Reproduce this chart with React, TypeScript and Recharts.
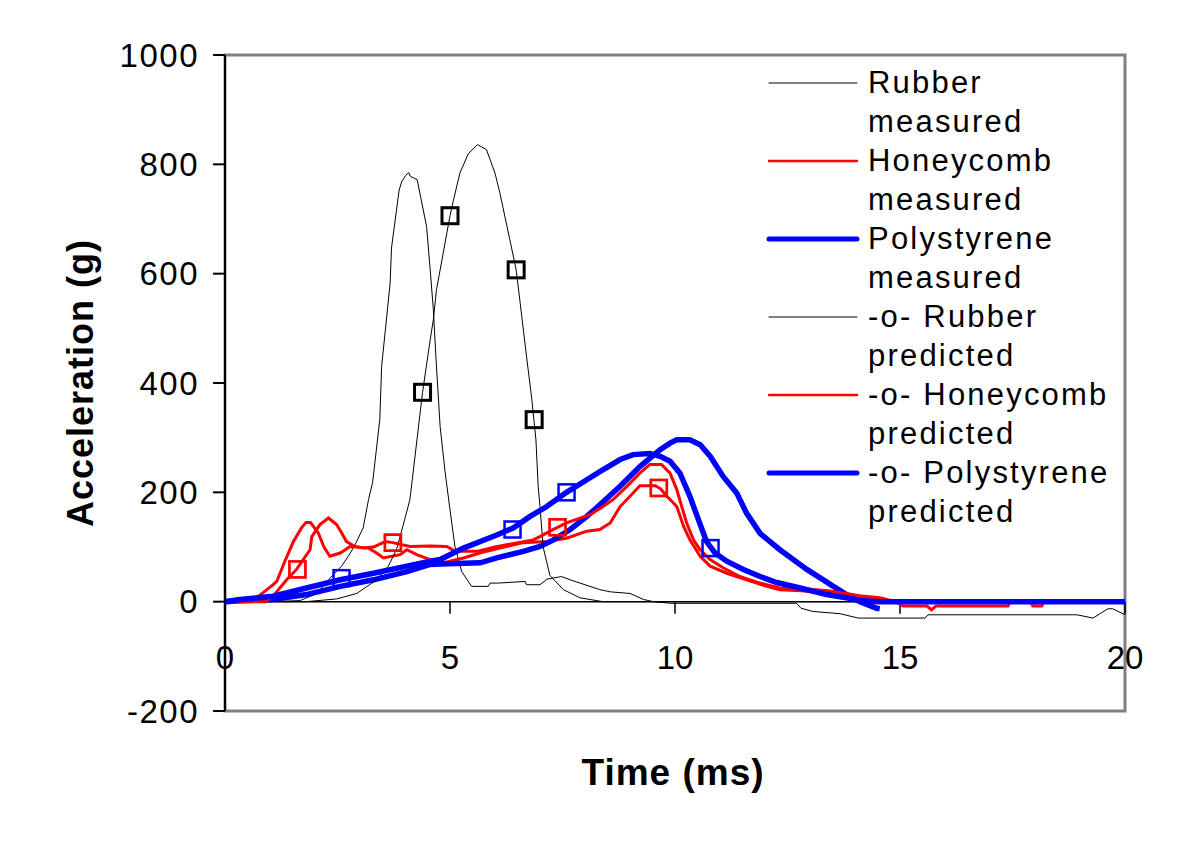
import {
  ComposedChart, Line, Scatter, XAxis, YAxis, ReferenceLine, ReferenceArea, Legend, Label,
} from 'recharts'

const font = '"Liberation Sans", Arial, sans-serif'

// [time ms, acceleration g]
const rubberMeasured: [number, number][] = [
  [0, 0], [1.0, 0], [1.67, 2], [2.04, 15], [2.3, 40], [2.59, 65], [2.74, 83], [2.89, 104],
  [3.07, 135], [3.19, 187], [3.28, 218], [3.44, 333], [3.48, 430], [3.67, 583], [3.7, 647],
  [3.87, 753], [3.93, 769], [4.02, 780], [4.08, 785], [4.12, 778], [4.27, 772], [4.48, 686],
  [4.56, 607], [4.63, 534], [4.69, 443], [4.78, 321], [4.89, 238], [5.0, 168], [5.11, 101],
  [5.26, 55], [5.48, 28], [5.85, 28], [5.89, 34], [6.07, 34], [6.67, 37], [6.7, 31], [7.0, 31],
  [7.15, 41], [7.48, 46], [7.67, 40], [7.89, 34], [8.11, 28], [8.33, 22], [8.56, 18], [9.0, 15],
  [9.3, 4], [9.52, 0], [9.9, -3], [12.7, -3], [12.8, -12], [13.07, -18], [13.67, -22],
  [14.07, -30], [15.56, -30], [15.62, -24], [18.93, -24], [19.29, -30], [19.62, -13],
  [19.73, -13], [20, -24],
]
const honeycombMeasured: [number, number][] = [
  [0, 0], [0.6, 0], [0.7, 7], [1.07, 31], [1.15, 37], [1.33, 74], [1.52, 110], [1.7, 135],
  [1.8, 145], [1.9, 145], [2.07, 126], [2.2, 100], [2.33, 83], [2.56, 89], [2.78, 101],
  [3.19, 98], [3.37, 89], [3.52, 80], [3.89, 86], [4.04, 95], [4.26, 86], [4.56, 77],
  [4.9, 72], [5.3, 80], [5.7, 90], [6.2, 100], [6.63, 108], [7.15, 110], [7.59, 116],
  [8.04, 129], [8.33, 132], [8.56, 144], [8.78, 174], [9.0, 193], [9.22, 212], [9.56, 212],
  [9.67, 207], [9.82, 193], [10.04, 174], [10.19, 138], [10.33, 113], [10.56, 83], [10.78, 65],
  [11.15, 52], [11.59, 40], [12.04, 28], [12.33, 22], [12.8, 20], [13.4, 16], [13.8, 12],
  [14.1, 9], [14.55, 5], [14.9, 0], [20, 0],
]
const polystyreneMeasured: [number, number][] = [
  [0, 0], [0.4, 2], [1.07, 4], [1.81, 13], [2.56, 28], [3.3, 40], [4.04, 55], [4.56, 68],
  [4.78, 69], [5.67, 71], [6.04, 80], [6.63, 92], [7.0, 101], [7.3, 113], [7.67, 132],
  [8.04, 156], [8.33, 177], [8.78, 211], [9.22, 247], [9.67, 278], [9.89, 290], [10.04, 296],
  [10.33, 296], [10.56, 287], [10.78, 266], [11.07, 229], [11.37, 199], [11.59, 162],
  [11.89, 125], [12.33, 95], [12.93, 59], [13.52, 28], [13.81, 13], [14.11, 0], [14.48, -12],
  [14.55, -13],
]
const rubberPredicted: [number, number][] = [
  [0, 0], [1.8, 0], [2.48, 5], [2.93, 15], [3.37, 40], [3.63, 65], [3.81, 95], [3.96, 140],
  [4.11, 187], [4.39, 383], [4.56, 479], [4.63, 516], [4.7, 571], [4.85, 638], [5.0, 706],
  [5.07, 732], [5.22, 784], [5.41, 820], [5.61, 836], [5.81, 827], [6.0, 784], [6.11, 747],
  [6.33, 662], [6.47, 607], [6.56, 546], [6.7, 449], [6.82, 369], [6.91, 296], [6.96, 210],
  [7.0, 174], [7.07, 100], [7.22, 48], [7.52, 22], [7.89, 7], [8.4, 0], [20, 0],
]
const honeycombPredicted: [number, number][] = [
  [0, 0], [0.9, 0], [1.07, 10], [1.37, 40], [1.59, 59], [1.89, 95], [1.93, 119], [2.11, 141],
  [2.3, 153], [2.48, 141], [2.59, 126], [2.7, 110], [2.89, 101], [3.07, 98], [3.3, 100],
  [3.56, 110], [3.73, 108], [4.11, 101], [4.56, 102], [4.93, 101], [5.11, 92], [5.6, 92],
  [6.0, 100], [6.26, 104], [6.85, 113], [7.0, 119], [7.22, 129], [7.59, 144], [8.11, 159],
  [8.33, 170], [8.63, 187], [8.93, 211], [9.22, 235], [9.44, 251], [9.7, 251], [9.89, 235],
  [10.04, 205], [10.15, 174], [10.26, 144], [10.41, 113], [10.56, 95], [10.78, 77],
  [11.07, 62], [11.44, 46], [11.89, 34], [12.33, 25], [12.8, 24], [13.4, 20], [13.8, 15],
  [14.1, 11], [14.55, 7], [14.9, 0], [15.07, -8], [15.6, -8], [15.7, -15], [15.8, -8],
  [17.4, -8], [17.45, 0], [17.9, 0], [17.95, -8], [18.15, -8], [18.2, 0], [20, 0],
]
const polystyrenePredicted: [number, number][] = [
  [0, 0], [0.33, 4], [1.07, 10], [1.81, 25], [2.56, 40], [3.3, 52], [4.04, 65], [4.56, 74],
  [4.78, 77], [5.3, 98], [6.04, 122], [6.41, 135], [6.78, 156], [7.15, 174], [7.59, 200],
  [8.04, 223], [8.33, 238], [8.78, 260], [9.07, 269], [9.44, 271], [9.67, 266], [9.89, 257],
  [10.11, 235], [10.33, 193], [10.52, 150], [10.7, 110], [10.89, 89], [11.15, 74], [11.52, 59],
  [11.89, 46], [12.26, 35], [12.78, 25], [13.37, 13], [13.81, 7], [14.11, 2], [14.5, 0], [20, 0],
]

// square markers on the predicted curves
const rubberMarks: [number, number][] = [[4.39, 383], [5.0, 706], [6.47, 607], [6.87, 333]]
const honeycombMarks: [number, number][] = [[1.61, 59], [3.73, 108], [7.39, 136], [9.64, 208]]
const polystyreneMarks: [number, number][] = [[2.59, 43], [6.39, 132], [7.59, 200], [10.79, 98]]

const xTicks = [0, 5, 10, 15, 20]
const yTicks = [-200, 0, 200, 400, 600, 800, 1000]

const pts = (a: [number, number][]) => a.map(([t, g]) => ({ t, g }))

const series = [
  { key: 'rm', name: 'Rubber measured', data: rubberMeasured, color: '#000000', width: 1 },
  { key: 'hm', name: 'Honeycomb measured', data: honeycombMeasured, color: '#ff0000', width: 3 },
  { key: 'pm', name: 'Polystyrene measured', data: polystyreneMeasured, color: '#0000ff', width: 5.5 },
  { key: 'rp', name: '-o- Rubber predicted', data: rubberPredicted, color: '#000000', width: 1 },
  { key: 'hp', name: '-o- Honeycomb predicted', data: honeycombPredicted, color: '#ff0000', width: 3 },
  { key: 'pp', name: '-o- Polystyrene predicted', data: polystyrenePredicted, color: '#0000ff', width: 5.5 },
]

const marks = [
  { key: 'rk', data: rubberMarks, color: '#000000', width: 3 },
  { key: 'hk', data: honeycombMarks, color: '#ff0000', width: 2.7 },
  { key: 'pk', data: polystyreneMarks, color: '#0000ff', width: 2.5 },
]

const square = (color: string, width: number) => (props: any) => (
  <rect x={props.cx - 8} y={props.cy - 8} width={16} height={16}
    fill="none" stroke={color} strokeWidth={width} />
)

function LegendBox() {
  return (
    <div style={{ fontFamily: font, fontSize: 31, letterSpacing: 2.2, lineHeight: '39px', color: '#000' }}>
      {series.map((s) => {
        const i = s.name.lastIndexOf(' ')
        return (
          <div key={s.key} style={{ display: 'flex', alignItems: 'flex-start' }}>
            <svg width={103} height={39} style={{ flex: 'none' }}>
              <line x1={4} x2={92} y1={20} y2={20} stroke={s.color}
                strokeWidth={s.width === 3 ? 2.4 : s.width === 5.5 ? 5 : 1} strokeLinecap="round" />
            </svg>
            <div>
              <div>{s.name.slice(0, i)}</div>
              <div>{s.name.slice(i + 1)}</div>
            </div>
          </div>
        )
      })}
    </div>
  )
}

export default function App() {
  return (
    <div style={{ position: 'absolute', left: 0, top: 0, width: 1197, height: 849, background: '#fff' }}>
      <ComposedChart width={1197} height={849} margin={{ top: 55, right: 72, bottom: 58, left: 0 }}>
        <ReferenceArea x1={0} x2={20} y1={-200} y2={1000} fill="none" stroke="#808080" strokeWidth={3} />
        <XAxis type="number" dataKey="t" domain={[0, 20]} ticks={xTicks} height={80}
          axisLine={false} tickLine={false} tick={false}
          label={<Label content={(p: any) => {
            const vb = p.viewBox
            return (
              <text x={vb.x + vb.width / 2 - 2} y={vb.y + 74} textAnchor="middle"
                fontFamily={font} fontSize={37} fontWeight="bold" letterSpacing={1} fill="#000">
                Time (ms)
              </text>
            )
          }} />}
        />
        <YAxis type="number" dataKey="g" domain={[-200, 1000]} ticks={yTicks} width={225}
          axisLine={{ stroke: '#000', strokeWidth: 2 }} tickLine={{ stroke: '#000', strokeWidth: 2 }}
          tickSize={12} tickMargin={14}
          tick={{ fill: '#000', fontSize: 33, fontFamily: font, letterSpacing: 1.5 }}
          label={<Label content={(p: any) => {
            const vb = p.viewBox
            const cx = vb.x + 80
            const cy = vb.y + vb.height / 2
            return (
              <text x={cx} y={cy} transform={`rotate(-90 ${cx} ${cy})`} textAnchor="middle"
                dominantBaseline="central" fontFamily={font} fontSize={36} fontWeight="bold"
                letterSpacing={1} fill="#000">
                Acceleration (g)
              </text>
            )
          }} />}
        />
        <ReferenceLine y={0} stroke="#000" strokeWidth={1.5} />
        {xTicks.map((t) => (
          <ReferenceLine key={t} segment={[{ x: t, y: 0 }, { x: t, y: -22 }]} stroke="#000" strokeWidth={1.5}
            label={{ value: String(t), position: 'bottom', offset: 32, fill: '#000', fontSize: 33, fontFamily: font }} />
        ))}
        {series.map((s) => (
          <Line key={s.key} data={pts(s.data)} dataKey="g" name={s.name} type="linear"
            stroke={s.color} strokeWidth={s.width} dot={false} activeDot={false}
            isAnimationActive={false} />
        ))}
        {marks.map((m) => (
          <Scatter key={m.key} data={pts(m.data)} dataKey="g" legendType="none"
            shape={square(m.color, m.width)} isAnimationActive={false} />
        ))}
        <Legend layout="vertical" align="center" verticalAlign="middle" content={() => <LegendBox />}
          wrapperStyle={{ top: 63, left: 765, width: 430, right: 'auto', bottom: 'auto' }} />
      </ComposedChart>
    </div>
  )
}
